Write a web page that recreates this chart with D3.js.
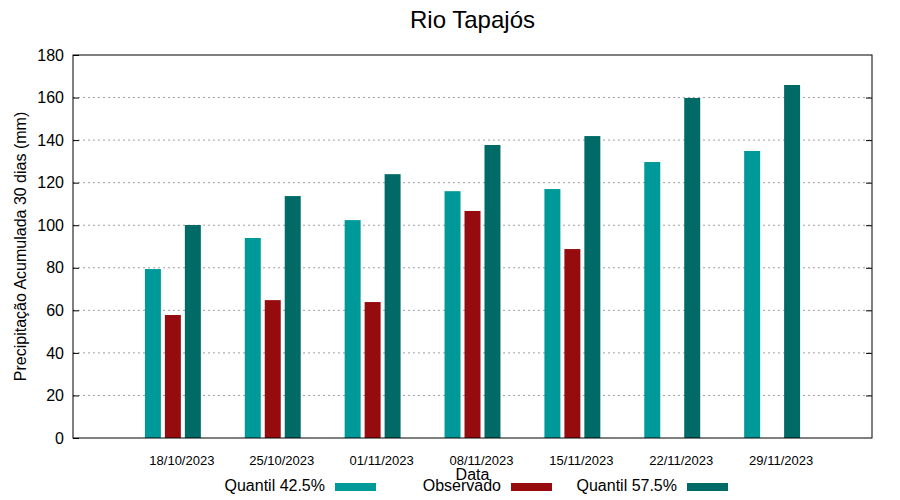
<!DOCTYPE html>
<html>
<head>
<meta charset="utf-8">
<script src="https://cdn.jsdelivr.net/npm/d3@7"></script>
<style>
  body { margin: 0; background: #fff; }
  svg { font-family: "Liberation Sans", Arial, sans-serif; }
</style>
</head>
<body>
<div id="chart"></div>
<script>
// dados
const datas = ['18/10/2023', '25/10/2023', '01/11/2023', '08/11/2023', '15/11/2023', '22/11/2023', '29/11/2023'];
const quantil425 = [79.4, 94, 102.4, 116, 117, 129.7, 134.9];
const observado = [57.8, 64.8, 63.9, 106.7, 88.8, null, null];
const quantil575 = [100.1, 113.7, 124, 137.7, 141.9, 159.8, 165.9];
const yTicks = [0, 20, 40, 60, 80, 100, 120, 140, 160, 180];

const series = [
  { nome: 'Quantil 42.5%', valores: quantil425, cor: '#009999', desloc: -0.2 },
  { nome: 'Observado', valores: observado, cor: '#960c0e', desloc: 0 },
  { nome: 'Quantil 57.5%', valores: quantil575, cor: '#006a66', desloc: 0.2 }
];

const width = 900, height = 500;
const margin = { left: 73, right: 28, top: 55, bottom: 62 };

const svg = d3.select('#chart')
  .append('svg')
  .attr('width', width)
  .attr('height', height);

// escalas
const x = d3.scaleLinear().domain([-1, 7]).range([margin.left, width - margin.right]);
const y = d3.scaleLinear().domain([0, 180]).range([height - margin.bottom, margin.top]);
const barW = x(0.16) - x(0);

// grade pontilhada
svg.append('g')
  .selectAll('line')
  .data(yTicks.filter(t => t > 0 && t < 180))
  .enter()
  .append('line')
  .attr('x1', x(-1))
  .attr('x2', x(7))
  .attr('y1', d => y(d))
  .attr('y2', d => y(d))
  .attr('stroke', '#a0a0a0')
  .attr('stroke-width', 1)
  .attr('stroke-dasharray', '2,3');

// barras
series.forEach(s => {
  svg.append('g')
    .selectAll('rect')
    .data(s.valores.map((v, i) => ({ v, i })).filter(d => d.v != null))
    .enter()
    .append('rect')
    .attr('x', d => x(d.i + s.desloc) - barW / 2)
    .attr('width', barW)
    .attr('y', d => y(d.v))
    .attr('height', d => y(0) - y(d.v))
    .attr('fill', s.cor);
});

// eixo y esquerdo e direito (ticks para dentro)
const yLeft = svg.append('g')
  .attr('transform', `translate(${margin.left},0)`)
  .call(d3.axisLeft(y).tickValues(yTicks).tickSizeInner(-6).tickSizeOuter(0).tickPadding(9));
yLeft.select('.domain').remove();
yLeft.selectAll('text').style('font-size', '16px').attr('fill', '#000');
yLeft.selectAll('line').attr('stroke', '#000');

const yRight = svg.append('g')
  .attr('transform', `translate(${width - margin.right},0)`)
  .call(d3.axisRight(y).tickValues(yTicks.filter(t => t > 0 && t < 180)).tickSizeInner(-6).tickSizeOuter(0).tickFormat(''));
yRight.select('.domain').remove();
yRight.selectAll('line').attr('stroke', '#000');

// moldura
svg.append('rect')
  .attr('x', margin.left)
  .attr('y', margin.top)
  .attr('width', width - margin.left - margin.right)
  .attr('height', height - margin.top - margin.bottom)
  .attr('fill', 'none')
  .attr('stroke', '#000')
  .attr('stroke-width', 1);

// rótulos do eixo x
const xAxis = svg.append('g')
  .attr('transform', `translate(0,${y(0)})`)
  .call(d3.axisBottom(x).tickValues(d3.range(datas.length).map(i => i + 0.085))
    .tickFormat((d, i) => datas[i]).tickSize(0).tickPadding(18));
xAxis.select('.domain').remove();
xAxis.selectAll('text').style('font-size', '13px').attr('fill', '#000');

// títulos
svg.append('text')
  .attr('x', (margin.left + width - margin.right) / 2)
  .attr('y', 28)
  .attr('text-anchor', 'middle')
  .style('font-size', '24px')
  .text('Rio Tapajós');

svg.append('text')
  .attr('x', (margin.left + width - margin.right) / 2)
  .attr('y', 480)
  .attr('text-anchor', 'middle')
  .style('font-size', '16px')
  .text('Data');

svg.append('text')
  .attr('transform', `translate(26,${(margin.top + y(0)) / 2}) rotate(-90)`)
  .attr('text-anchor', 'middle')
  .style('font-size', '16px')
  .text('Precipitação Acumulada 30 dias (mm)');

// legenda
const legenda = svg.append('g')
  .selectAll('g')
  .data(series)
  .enter()
  .append('g')
  .attr('transform', (d, i) => `translate(${325 + i * 176},486)`);

legenda.append('text')
  .attr('x', 0)
  .attr('y', 5)
  .attr('text-anchor', 'end')
  .style('font-size', '16px')
  .text(d => d.nome);

legenda.append('rect')
  .attr('x', 10)
  .attr('y', -3)
  .attr('width', 41)
  .attr('height', 8)
  .attr('fill', d => d.cor);
</script>
</body>
</html>
